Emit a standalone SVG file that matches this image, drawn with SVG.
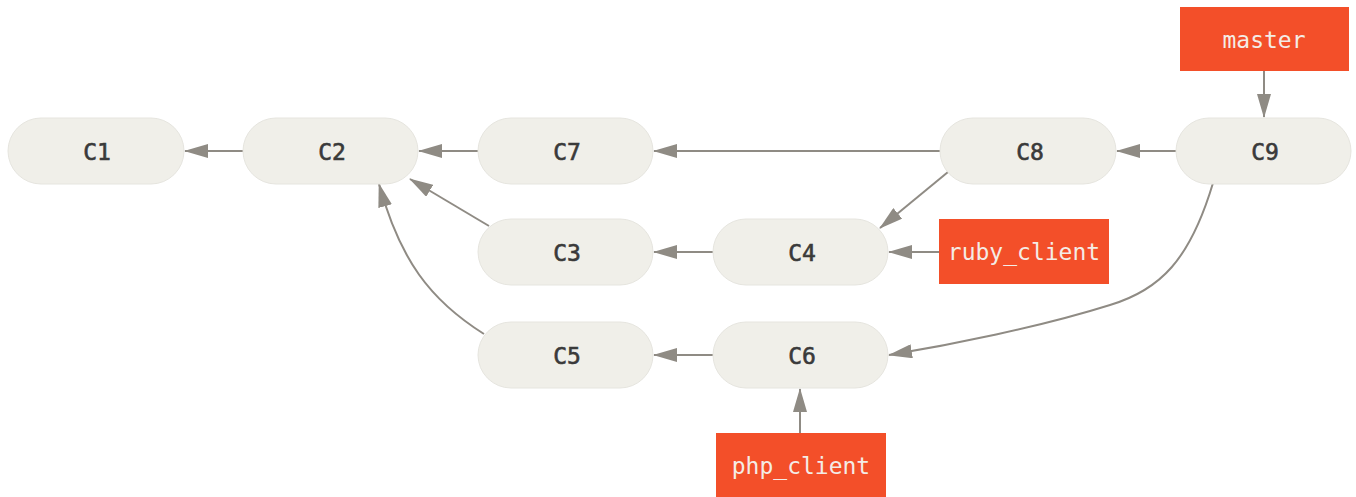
<svg xmlns="http://www.w3.org/2000/svg" width="1356" height="497" viewBox="0 0 1356 497">
<style>
.commit rect{fill:#f0efe9;stroke:#e6e5df;stroke-width:1}
.commit text{font-family:"DejaVu Sans Mono","Liberation Mono",monospace;font-size:23px;fill:#3a3a3a;stroke:#3a3a3a;stroke-width:0.6;text-anchor:middle;dominant-baseline:central}
.ref rect{fill:#f34f29}
.ref text{font-family:"DejaVu Sans Mono","Liberation Mono",monospace;font-size:23px;fill:#f4ece6;text-anchor:middle;dominant-baseline:central}
.edge{fill:none;stroke:#8f8b84;stroke-width:2;marker-end:url(#ah)}
</style>
<defs>
<marker id="ah" viewBox="0 0 24 14" refX="23" refY="7" markerWidth="24" markerHeight="14" orient="auto" markerUnits="userSpaceOnUse">
<path d="M0,0 L24,7 L0,14 z" fill="#8f8b84"/>
</marker>
</defs>
<rect width="1356" height="497" fill="#ffffff"/>
<g id="connectors">
<path class="edge" d="M243,151 L185,151"/>
<path class="edge" d="M478,151 L419,151"/>
<path class="edge" d="M940,151 L654,151"/>
<path class="edge" d="M1176,151 L1117,151"/>
<path class="edge" d="M1264,71 L1264,117"/>
<path class="edge" d="M489,226 L410,179"/>
<path class="edge" d="M484,334 C430,300 400,260 379,184"/>
<path class="edge" d="M713,252 L654,252"/>
<path class="edge" d="M948,172 L880,228"/>
<path class="edge" d="M939,252 L889,252"/>
<path class="edge" d="M1213,183 C1190,260 1160,290 1110,305 C1040,327 950,345 889,355"/>
<path class="edge" d="M713,355 L654,355"/>
<path class="edge" d="M800,433 L800,389"/>
</g>
<g id="C1" class="commit"><rect x="8" y="118" width="176" height="66" rx="33"/><text x="97" y="152">C1</text></g>
<g id="C2" class="commit"><rect x="243" y="118" width="175" height="66" rx="33"/><text x="332" y="152">C2</text></g>
<g id="C7" class="commit"><rect x="478" y="118" width="175" height="66" rx="33"/><text x="567" y="152">C7</text></g>
<g id="C8" class="commit"><rect x="940" y="118" width="176" height="66" rx="33"/><text x="1030" y="152">C8</text></g>
<g id="C9" class="commit"><rect x="1176" y="118" width="175" height="66" rx="33"/><text x="1265" y="152">C9</text></g>
<g id="C3" class="commit"><rect x="478" y="219" width="175" height="66" rx="33"/><text x="567" y="253">C3</text></g>
<g id="C4" class="commit"><rect x="713" y="219" width="175" height="66" rx="33"/><text x="802" y="253">C4</text></g>
<g id="C5" class="commit"><rect x="478" y="322" width="175" height="66" rx="33"/><text x="567" y="356">C5</text></g>
<g id="C6" class="commit"><rect x="713" y="322" width="175" height="66" rx="33"/><text x="802" y="356">C6</text></g>
<g id="master" class="ref"><rect x="1180" y="7" width="169" height="64"/><text x="1264" y="40">master</text></g>
<g id="ruby_client" class="ref"><rect x="939" y="219" width="170" height="65"/><text x="1024" y="252">ruby_client</text></g>
<g id="php_client" class="ref"><rect x="716" y="433" width="170" height="64"/><text x="801" y="466">php_client</text></g>
</svg>
